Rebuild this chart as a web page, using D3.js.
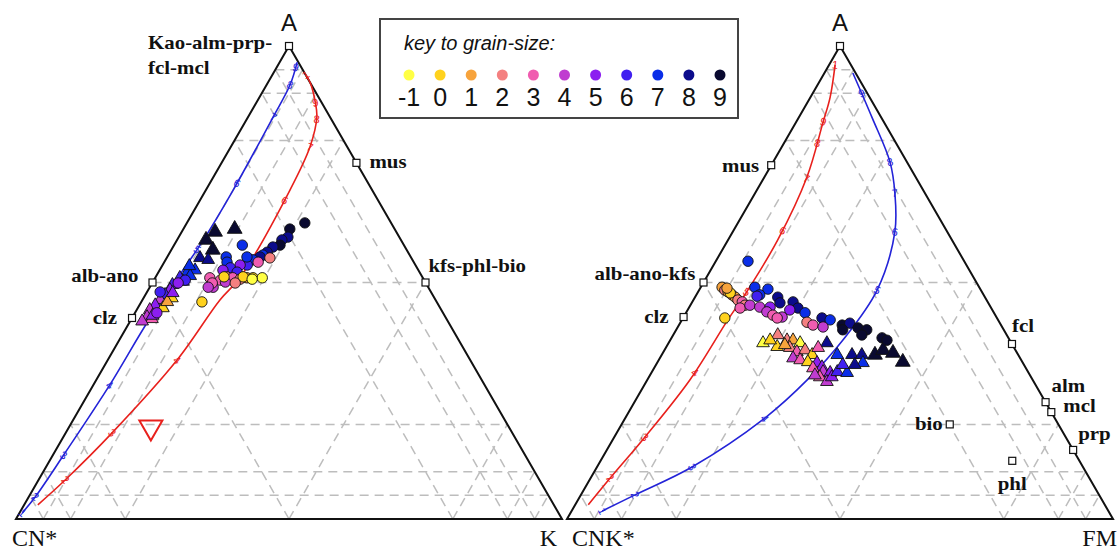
<!DOCTYPE html>
<html>
<head>
<meta charset="utf-8">
<script src="https://cdn.jsdelivr.net/npm/d3@7"></script>
<style>
  body { margin: 0; padding: 0; background: #fff; }
  .lab { font-family: "Liberation Serif", "DejaVu Serif", serif; font-weight: bold; font-size: 18.5px; fill: #111; }
  .corner { font-family: "Liberation Serif", serif; font-size: 24px; fill: #111; }
  .apex { font-family: "Liberation Sans", Arial, sans-serif; font-size: 24px; fill: #111; }
  .key { font-family: "Liberation Sans", Arial, sans-serif; fill: #111; }
  .tick { font-family: "Liberation Sans", Arial, sans-serif; font-size: 11px; }
</style>
</head>
<body>
<script>
// grain size key
var grainSizes = [-1, 0, 1, 2, 3, 4, 5, 6, 7, 8, 9];
var grainColors = ["#ffff44", "#ffd21e", "#f7a33c", "#f48080", "#f05cb0", "#c03cd0",
                   "#8c1ef0", "#4020f0", "#0a2ee8", "#0c0c8c", "#0a0a30"];

// grid levels (percent), same for the three directions
var gridLevels = [5, 10, 20, 50, 80, 90, 95];

// left diagram A - CN* - K ; points are [A, K, grain]
var leftCircles = [
  [62.6,21.6,9],[61.3,19.5,9],[59.6,20.0,8],[59.0,19.2,8],[57.9,19.4,9],[57.5,18.3,8],
  [56.4,17.8,8],[55.8,17.3,7],[55.4,17.0,8],[54.8,16.0,7],[55.2,18.9,2],[54.3,17.2,3],
  [53.7,15.5,6],[53.7,14.2,5],[57.9,12.5,7],[55.4,10.8,7],[54.3,11.5,7],[53.1,12.7,6],
  [52.6,11.6,5],[52.2,14.4,6],[55.4,14.6,7],
  [51.0,10.0,3],[49.0,11.6,4],[50.5,12.2,3],[51.2,13.0,2],[51.0,14.2,3],[50.7,15.7,2],
  [51.0,16.8,1],[51.0,17.9,0],[51.0,19.6,-1],[50.1,13.3,4],[49.9,11.0,3],[49.0,10.7,4],
  [51.2,12.5,0],[51.2,16.0,0],[50.7,17.9,-1],[45.9,11.1,0],[49.9,15.2,2],
  [43.6,4.0,5],[50.5,5.75,6],[49.9,4.75,5],[48.0,2.4,6]
];
var leftTriangles = [
  [60.7,6.1,9],[61.3,9.4,9],[59.0,5.3,9],[56.9,7.6,9],[55.2,6.1,8],[54.8,7.8,8],
  [52.6,6.5,7],[52.0,5.3,7],[51.0,4.5,6],[49.5,3.9,6],[48.4,4.0,5],[47.4,3.6,6],
  [46.3,3.25,4],[46.7,5.2,0],[45.2,2.9,5],[44.6,4.6,0],[44.2,2.4,4],[42.7,2.65,4],
  [42.3,3.75,3],[51.4,6.2,7],[45.9,4.75,1],[53.5,5.0,7],[50.2,5.5,6],[47.8,4.8,5],
  [43.0,3.5,5],[41.8,2.2,4]
];
var leftOpenTriangle = [[19.4, 15.0]];

// right diagram A - CNK* - FM ; points are [A, FM, grain]
var rightCircles = [
  [54.5,5.9,7],[49.0,3.9,1],[48.4,4.7,2],[48.0,5.5,1],[47.4,6.5,2],[46.9,7.35,1],
  [46.3,8.15,2],[45.9,9.15,3],[45.2,10.0,2],[44.6,9.4,3],[47.8,6.0,0],[42.5,7.65,0],
  [48.8,4.9,1],
  [49.0,9.9,7],[48.6,12.5,7],[47.4,11.6,7],[46.9,15.15,8],[45.7,16.15,8],[45.9,18.45,8],
  [44.6,20.0,8],[43.6,21.8,7],[42.5,25.45,8],[42.1,27.15,7],[41.0,29.9,9],[41.4,31.1,8],
  [40.0,30.5,9],[40.4,33.1,9],[40.0,34.9,9],[38.9,34.55,9],[38.3,38.55,9],[37.8,39.7,9],
  [45.2,10.9,4],[44.8,12.9,4],[44.8,14.8,5],[43.8,14.7,4],[43.1,16.15,3],[42.7,18.05,4],
  [42.5,17.25,3],[41.6,23.15,2],[41.0,24.55,3],[40.6,26.6,4],[47.1,11.25,6],[44.2,18.7,5]
];
var rightTriangles = [
  [37.2,17.3,-1],[38.9,19.15,2],[36.4,20.3,0],[37.8,21.4,2],[37.8,22.5,1],[37.2,24.1,-1],
  [36.2,22.7,2],[35.3,24.45,3],[35.7,25.75,2],[34.7,27.55,0],[34.0,24.4,4],[33.6,25.9,3],
  [33.2,27.5,0],[33.0,29.3,5],[32.1,30.65,5],[31.9,29.1,3],[31.1,31.35,4],[30.9,32.75,5],
  [30.0,31.3,3],[29.0,33.1,4],[30.0,33.5,5],[31.1,33.95,6],[30.9,35.85,7],[32.6,34.2,6],
  [34.7,34.85,8],[37.2,29.0,8],[34.7,32.15,7],[34.7,36.65,8],[33.0,37.7,7],[34.7,39.05,9],
  [35.7,40.05,9],[35.1,42.15,9],[33.2,44.9,9],[32.6,36.4,8],[36.8,21.5,1],[37.8,18.3,0],
  [36.2,27.9,3],[30.4,30.2,4]
];

// reference minerals [name, A, right component]
var leftMinerals = [["Kao-alm-prp-|fcl-mcl",100,0],["mus",75.3,24.7],["kfs-phl-bio",50,50],
                    ["alb-ano",50,0],["clz",42.5,0]];
var rightMinerals = [["",100,0],["mus",74.8,0],["alb-ano-kfs",50,0],["clz",42.7,0],["fcl",37,63],
                     ["alm",24.7,75.3],["mcl",22.6,77.4],["prp",14.6,85.4],["bio",20,60.1],["phl",12.3,75.4]];

// weathering / sorting curves [A, right component]
var leftBlue = [[1.3,0.5],[4.7,1.2],[14,2.0],[28.3,3.0],[42.5,3.3],[58.6,4.8],[69.6,5.0],
                [85,4.6],[91.8,4.3],[96.6,3.2]];
var leftRed = [[3.0,2.5],[8.3,4.9],[18.2,8.5],[33.6,12.7],[46.3,14.2],[51,15.5],[69.6,15.4],
               [78.7,14.5],[85,12.6],[88.2,10.7],[92.2,7.8],[93.9,6.1]];
var rightRed = [[3,2.4],[8.7,3.6],[17.3,5.6],[29.4,7.8],[42,8.4],[48,8.9],[59,9.1],[72.3,7.8],
                [83.7,5.0],[89.2,3.6],[96,1.1]];
var rightBlue = [[1.7,5.6],[5.1,9.9],[11,17.4],[21.4,25.6],[29.4,29.3],[37.8,31.6],[48.4,32.6],
                 [60.7,29.7],[68.9,25.6],[75.5,21.4],[84.8,13.5],[94.3,5.2]];
// tick labels along curves, placed at A value
var tickNames = ["1","2","3","4","5","6","7","8","9"];
var leftBlueTicks = [1.3, 4.7, 13.5, 28.3, 57, 71, 85, 91.8, 95.5];
var leftRedTicks = [3.0, 8.3, 18.2, 33.6, 51, 67.4, 78.6, 84.5, 88];
var rightRedTicks = [3, 8.7, 17.3, 31, 48, 61, 72, 79.5, 84];
var rightBlueTicks = [1.7, 5.1, 11, 21.3, 48.4, 60.7, 68.9, 75.5, 90];

var W = 546, H = 473, baseY = 519, topY = 46;

var svg = d3.select("body").append("svg").attr("width", 1118).attr("height", 550);

function drawDiagram(x0, cfg) {
  var xs = d3.scaleLinear().domain([0, 100]).range([x0, x0 + W]);
  var ys = d3.scaleLinear().domain([0, 100]).range([baseY, topY]);
  var pt = function(a, r) { return [xs(r + a / 2), ys(a)]; };
  var g = svg.append("g");

  // dashed grid
  var segs = [];
  gridLevels.forEach(function(f) {
    segs.push([pt(f, 0), pt(f, 100 - f)]);
    segs.push([pt(0, f), pt(100 - f, f)]);
    segs.push([pt(0, 100 - f), pt(100 - f, 0)]);
  });
  g.selectAll("line.grid").data(segs).enter().append("line")
    .attr("x1", function(d){ return d[0][0]; }).attr("y1", function(d){ return d[0][1]; })
    .attr("x2", function(d){ return d[1][0]; }).attr("y2", function(d){ return d[1][1]; })
    .attr("stroke", "#bdbdbd").attr("stroke-width", 1.5).attr("stroke-dasharray", "9,6");

  // frame
  g.append("path").attr("d", d3.line()([pt(0, 0), pt(0, 100), pt(100, 0)]) + "Z")
    .attr("fill", "none").attr("stroke", "#111").attr("stroke-width", 2);

  // curves
  var line = d3.line().curve(d3.curveCatmullRom.alpha(0.5))
    .x(function(d){ return pt(d[0], d[1])[0]; }).y(function(d){ return pt(d[0], d[1])[1]; });
  cfg.curves.forEach(function(c) {
    var p = g.append("path").attr("d", line(c.pts)).attr("fill", "none")
      .attr("stroke", c.color).attr("stroke-width", 1.6);
    var node = p.node(), len = node.getTotalLength();
    c.ticks.forEach(function(av, i) {
      var target = ys(av), lo = 0, hi = len;
      var yStart = node.getPointAtLength(0).y;
      for (var it = 0; it < 30; it++) {
        var mid = (lo + hi) / 2, py = node.getPointAtLength(mid).y;
        if ((py > target) === (yStart > target)) lo = mid; else hi = mid;
      }
      var p0 = node.getPointAtLength(Math.max(0, lo - 2)), p1 = node.getPointAtLength(Math.min(len, lo + 2));
      var q = node.getPointAtLength(lo);
      var ang = Math.atan2(p1.y - p0.y, p1.x - p0.x) * 180 / Math.PI;
      g.append("text").attr("class", "tick")
        .attr("transform", "translate(" + q.x + "," + q.y + ") rotate(" + (ang + 90) + ")")
        .attr("text-anchor", "middle").attr("dy", "0.35em")
        .attr("fill", c.color).text(tickNames[i]);
    });
  });

  // data triangles then circles
  var tri = d3.symbol().type(d3.symbolTriangle);
  g.selectAll("path.tri").data(cfg.triangles).enter().append("path")
    .attr("d", function(d){ return tri.size(d[2] === 9 ? 95 : 70)(); })
    .attr("transform", function(d){ var p = pt(d[0], d[1]); return "translate(" + p[0] + "," + p[1] + ")"; })
    .attr("fill", function(d){ return grainColors[grainSizes.indexOf(d[2])]; })
    .attr("stroke", "#111").attr("stroke-width", 0.9);
  g.selectAll("circle.pt").data(cfg.circles).enter().append("circle")
    .attr("cx", function(d){ return pt(d[0], d[1])[0]; })
    .attr("cy", function(d){ return pt(d[0], d[1])[1]; })
    .attr("r", 5.2)
    .attr("fill", function(d){ return grainColors[grainSizes.indexOf(d[2])]; })
    .attr("stroke", "#111").attr("stroke-width", 0.9);

  if (cfg.open) {
    g.selectAll("path.open").data(cfg.open).enter().append("path")
      .attr("d", tri.size(230)())
      .attr("transform", function(d){ var p = pt(d[0], d[1]); return "translate(" + p[0] + "," + p[1] + ") rotate(180)"; })
      .attr("fill", "none").attr("stroke", "#e8201c").attr("stroke-width", 2);
  }

  // minerals
  cfg.minerals.forEach(function(m) {
    var p = pt(m[1], m[2]);
    g.append("rect").attr("x", p[0] - 3.5).attr("y", p[1] - 3.5).attr("width", 7).attr("height", 7)
      .attr("fill", "#fff").attr("stroke", "#111").attr("stroke-width", 1.2);
    var o = cfg.labelPos[m[0]];
    if (!o) return;
    m[0].split("|").forEach(function(s, i) {
      g.append("text").attr("class", "lab")
        .attr("transform", "translate(" + (p[0] + o[0]) + "," + (p[1] + o[1] + i * 25) + ") scale(1.13,1)")
        .attr("text-anchor", o[2]).text(s);
    });
  });

  // corner labels
  g.append("text").attr("class", "apex").attr("x", xs(50)).attr("y", 31).attr("text-anchor", "middle").text("A");
  g.append("text").attr("class", "corner").attr("x", x0 + cfg.cornerDx[0]).attr("y", 546).text(cfg.leftCorner);
  g.append("text").attr("class", "corner").attr("x", x0 + W + cfg.cornerDx[1]).attr("y", 546).attr("text-anchor", "end").text(cfg.rightCorner);
}

drawDiagram(16, {
  circles: leftCircles, triangles: leftTriangles, open: leftOpenTriangle,
  minerals: leftMinerals,
  labelPos: {"Kao-alm-prp-|fcl-mcl": [-141, 3, "start"], "mus": [13, 5, "start"], "kfs-phl-bio": [3, -11, "start"],
             "alb-ano": [-14, -1, "end"], "clz": [-15, 6, "end"]},
  curves: [{pts: leftBlue, color: "#2323d8", ticks: leftBlueTicks}, {pts: leftRed, color: "#e8201c", ticks: leftRedTicks}],
  leftCorner: "CN*", rightCorner: "K", cornerDx: [-4, -5]
});
drawDiagram(567, {
  circles: rightCircles, triangles: rightTriangles, open: null,
  minerals: rightMinerals,
  labelPos: {"mus": [-12, 7, "end"], "alb-ano-kfs": [-8, -3, "end"], "clz": [-15, 6, "end"], "fcl": [0, -12, "start"],
             "alm": [6, -10, "start"], "mcl": [12, 0, "start"], "prp": [5, -10, "start"], "bio": [-7, 6, "end"],
             "phl": [0, 29, "middle"]},
  curves: [{pts: rightRed, color: "#e8201c", ticks: rightRedTicks}, {pts: rightBlue, color: "#2323d8", ticks: rightBlueTicks}],
  leftCorner: "CNK*", rightCorner: "FM", cornerDx: [5, 4]
});

// legend
var key = svg.append("g");
key.append("rect").attr("x", 380).attr("y", 19).attr("width", 358).attr("height", 99)
  .attr("fill", "#fff").attr("stroke", "#444").attr("stroke-width", 2);
key.append("text").attr("class", "key").attr("x", 404).attr("y", 50)
  .style("font-style", "italic").style("font-size", "20px").text("key to grain-size:");
var kx = d3.scalePoint().domain(grainSizes).range([409, 720]);
key.selectAll("circle").data(grainSizes).enter().append("circle")
  .attr("cx", function(d){ return kx(d); }).attr("cy", 75).attr("r", 5.5)
  .attr("fill", function(d, i){ return grainColors[i]; });
key.selectAll("text.num").data(grainSizes).enter().append("text").attr("class", "key num")
  .attr("x", function(d){ return kx(d); }).attr("y", 106).attr("text-anchor", "middle")
  .style("font-size", "25px").text(function(d){ return d; });
</script>
</body>
</html>
